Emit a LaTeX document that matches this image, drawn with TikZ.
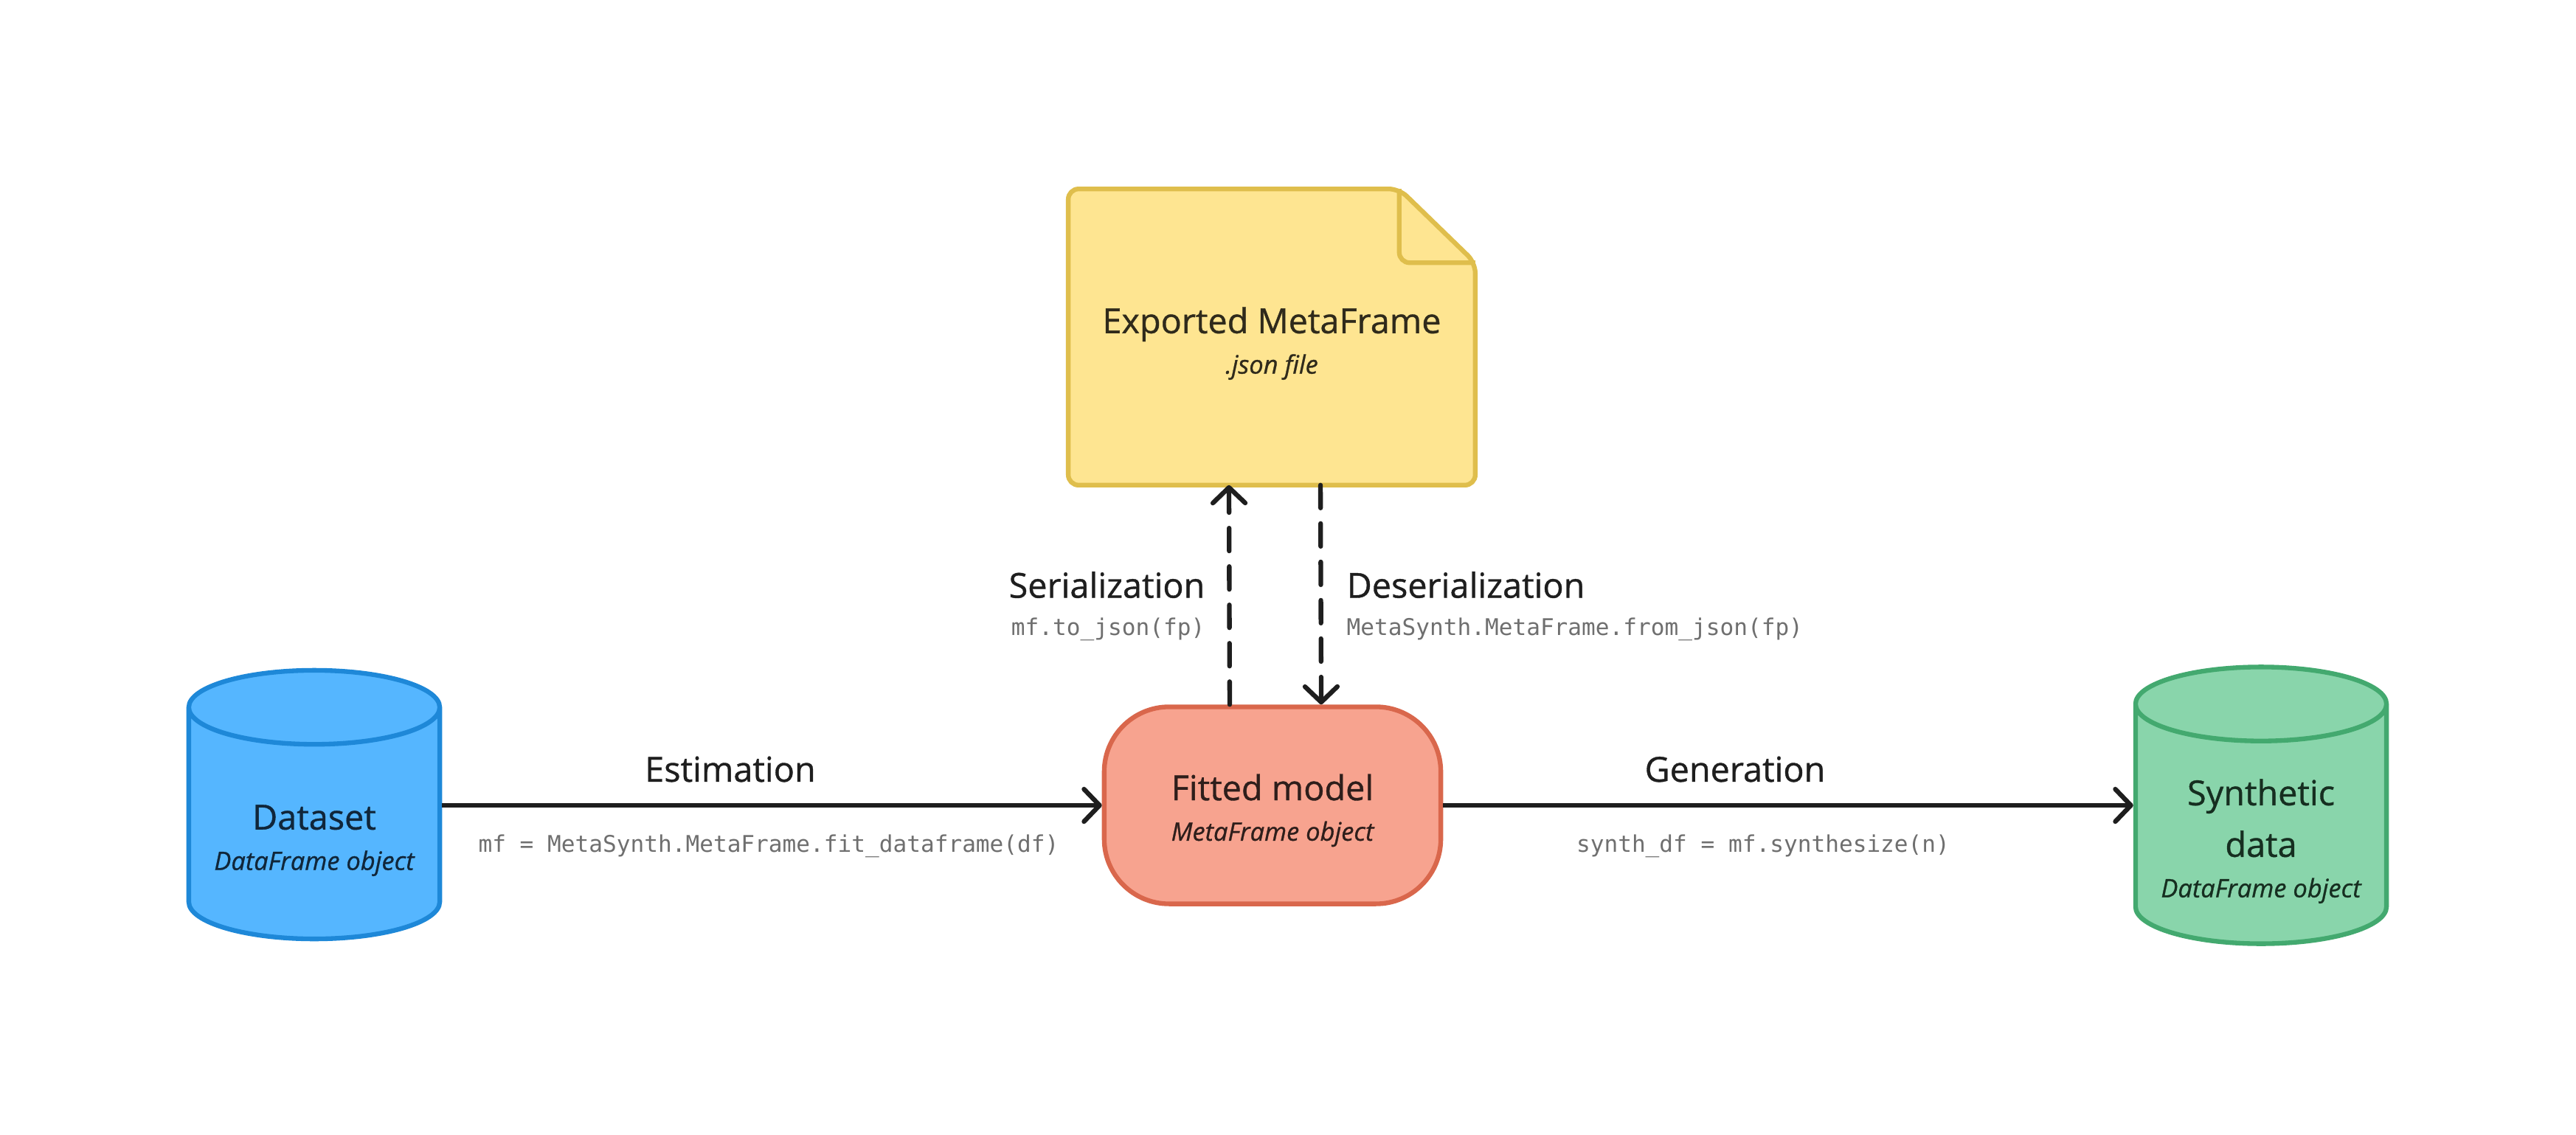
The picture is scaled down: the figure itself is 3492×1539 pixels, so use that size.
\documentclass[tikz,border=0pt]{standalone}
\usepackage{fontspec}
\setmainfont{Open Sans}[FakeBold=0.8]
\newfontfamily\codefont{DejaVu Sans Mono}
\usetikzlibrary{shapes.geometric,arrows.meta,backgrounds}

\definecolor{dsfill}{HTML}{55B6FF}
\definecolor{dsline}{HTML}{1E88D8}
\definecolor{dstext}{HTML}{10263A}
\definecolor{fmfill}{HTML}{F7A38F}
\definecolor{fmline}{HTML}{D9674C}
\definecolor{fmtext}{HTML}{2E1E1B}
\definecolor{exfill}{HTML}{FEE591}
\definecolor{exline}{HTML}{DFBE4C}
\definecolor{extext}{HTML}{2F2A1B}
\definecolor{sdfill}{HTML}{89D5AB}
\definecolor{sdline}{HTML}{43A96F}
\definecolor{sdtext}{HTML}{162E20}
\definecolor{arrowc}{HTML}{1E1E1E}
\definecolor{codec}{HTML}{6F6F6F}

\newcommand{\subtxt}[1]{{\fontsize{9.8}{12}\selectfont\itshape #1}}

\begin{document}
\begin{tikzpicture}[x=0.01cm, y=-0.01cm]
\tikzstyle{every node} = [font=\fontsize{13.3}{19.9}\selectfont, align=center, inner sep=0pt, text=arrowc]
\tikzstyle{store} = [cylinder, shape border rotate=90, aspect=0.37, line width=1.8pt, minimum width=3.4cm, anchor=shape center]
\tikzstyle{code} = [font=\codefont\fontsize{8.85}{10}\selectfont, text=codec]
\tikzstyle{flow} = [line width=1.8pt, arrowc, -{Straight Barb[length=6pt,width=12.5pt,round]}]
\tikzstyle{io} = [flow, line cap=round, dash pattern=on 8.8pt off 6pt]

\useasboundingbox (0,0) rectangle (3492,1539);

\node [store, draw=dsline, fill=dsfill, text=dstext, minimum height=3.64cm] (data) at (426,1091) {\rule{0pt}{22pt}Dataset\\[-4.3pt]\subtxt{DataFrame object}};
\node [draw=fmline, fill=fmfill, text=fmtext, line width=1.8pt, rounded corners=25pt, minimum width=4.56cm, minimum height=2.67cm] (fit) at (1725,1092) {\rule{0pt}{14pt}Fitted model\\[-4.3pt]\subtxt{MetaFrame object}};
\node [store, draw=sdline, fill=sdfill, text=sdtext, minimum height=3.75cm] (synth) at (3065,1092) {\rule{0pt}{22.6pt}Synthetic\\data\\[-4.3pt]\subtxt{DataFrame object}};
\node [text=extext, minimum width=5.5cm, minimum height=4cm] (doc) at (1724,457) {\rule{0pt}{15pt}Exported MetaFrame\\[-4.3pt]\subtxt{.json file}};

% the json file with its folded corner
\begin{scope}[on background layer]
\fill [white] (0,0) rectangle (3492,1539);
\draw [draw=exline, fill=exfill, line width=1.8pt, rounded corners=4pt] (doc.north west) -- ([xshift=-1.03cm]doc.north east) -- ([yshift=-1cm]doc.north east) -- (doc.south east) -- (doc.south west) -- cycle;
\draw [exline, line width=1.8pt, rounded corners=4pt] ([xshift=-1.03cm]doc.north east) -- ([xshift=-1.03cm,yshift=-1cm]doc.north east) -- ([yshift=-1cm]doc.north east);
\end{scope}

\node (est) at (990,1043) {Estimation};
\node [code] (estcode) at (1042,1147) {mf = MetaSynth.MetaFrame.fit\_dataframe(df)};
\node (gen) at (2352,1043) {Generation};
\node [code] (gencode) at (2390,1147) {synth\_df = mf.synthesize(n)};
\node [anchor=east] (ser) at (1634,793) {Serialization};
\node [code, anchor=east] (sercode) at (1634,853) {mf.to\_json(fp)};
\node [anchor=west] (deser) at (1825,793) {Deserialization};
\node [code, anchor=west] (desercode) at (1825,853) {MetaSynth.MetaFrame.from\_json(fp)};

\draw [flow] (fit.west -| data.east) -- (fit.west);
\draw [flow] (fit.east) -- (fit.east -| synth.west);
\draw [io] ([xshift=-0.58cm]fit.north) -- ([xshift=-0.58cm]doc.south);
\draw [io] ([xshift=0.66cm]doc.south) -- ([xshift=0.66cm]fit.north);
\end{tikzpicture}
\end{document}
